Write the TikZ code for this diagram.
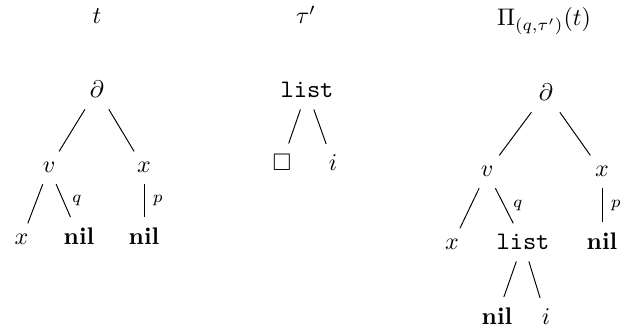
\documentclass[tikz,border=0pt]{standalone}
\usepackage{amssymb}
\begin{document}
\begin{tikzpicture}[x=0.41667pt,y=-0.41667pt,
  tn/.style={anchor=base,inner sep=4.5pt},
  lbl/.style={midway,right,inner sep=3.5pt,font=\scriptsize},
  ttl/.style={anchor=base},
  lst/.style={font=\fontsize{10.5}{12}\selectfont\ttfamily}]
\useasboundingbox (0,0) rectangle (641,331);
% titles
\node[ttl] (t1) at (97,24) {$t$};
\node[ttl] (tau) at (306,24) {$\tau'$};
\node[ttl] (pi) at (544,26) {$\Pi_{(q,\tau')}(t)$};
% tree 1
\node[tn] (a1) at (97,98) {$\partial$};
\node[tn] (v1) at (49,173) {$v$};
\node[tn] (x1) at (144,173) {$x$};
\node[tn] (xl1) at (21.5,245) {$x$};
\node[tn] (n1) at (79,245) {\textbf{nil}};
\node[tn] (n2) at (144,245) {\textbf{nil}};
\draw (a1) -- (v1);
\draw (a1) -- (x1);
\draw (v1) -- (xl1);
\draw (v1) -- node[lbl] (q1) {$q$} (n1);
\draw (x1) -- node[lbl] (p1) {$p$} (n2);
% tree 2
\node[tn,lst] (l2) at (307,98) {list};
\node[tn] (box) at (282,171) {$\Box$};
\node[tn] (i2) at (333,171) {$i$};
\draw (l2) -- (box);
\draw (l2) -- (i2);
% tree 3
\node[tn] (a3) at (546,101) {$\partial$};
\node[tn] (v3) at (487,177) {$v$};
\node[tn] (x3) at (602,177) {$x$};
\node[tn] (xl3) at (452,250) {$x$};
\node[tn,lst] (l3) at (523,250) {list};
\node[tn] (n3) at (602,250) {\textbf{nil}};
\node[tn] (n4) at (497,325) {\textbf{nil}};
\node[tn] (i3) at (546,325) {$i$};
\draw (a3) -- (v3);
\draw (a3) -- (x3);
\draw (v3) -- (xl3);
\draw (v3) -- node[lbl] (q3) {$q$} (l3);
\draw (x3) -- node[lbl] (p3) {$p$} (n3);
\draw (l3) -- (n4);
\draw (l3) -- (i3);
\end{tikzpicture}
\end{document}
